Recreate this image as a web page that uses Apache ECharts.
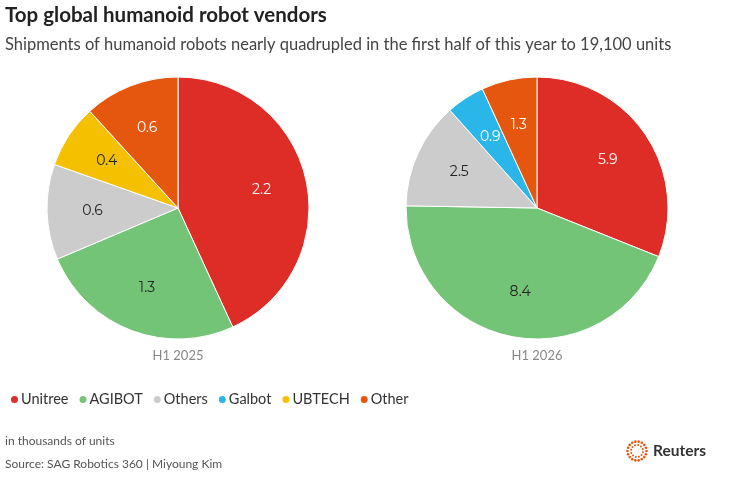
<!DOCTYPE html>
<html><head><meta charset="utf-8">
<script src="https://cdn.jsdelivr.net/npm/echarts@6/dist/echarts.min.js"></script>
<style>html,body{margin:0;padding:0;background:#fff}#c{width:750px;height:484px}</style>
</head><body><div id="c"></div>
<script>
const vendors = ['Unitree','AGIBOT','Others','Galbot','UBTECH','Other'];
const vendorColors = {Unitree:'#de2d26',AGIBOT:'#73c476',Others:'#cccccc',Galbot:'#2bb6ea',UBTECH:'#f4c000',Other:'#e5560f'};
const labelDark = {Unitree:false,AGIBOT:true,Others:true,Galbot:false,UBTECH:true,Other:false};
const names2025 = ['Unitree','AGIBOT','Others','UBTECH','Other'];
const values2025 = [2.2,1.3,0.6,0.4,0.6];
const names2026 = ['Unitree','AGIBOT','Others','Galbot','Other'];
const values2026 = [5.9,8.4,2.5,0.9,1.3];
const periods = ['H1 2025','H1 2026'];

const FONT = 'Lato';
function mk(names, vals){
  return names.map((n,i)=>({name:n,value:vals[i],itemStyle:{color:vendorColors[n]},
    label:{color: labelDark[n] ? '#222' : '#fff'}}));
}
function pies(names, vals, cx){
  return [
    {type:'pie',center:[cx,208],radius:[0,131],startAngle:90,clockwise:true,silent:true,
     data:mk(names,vals),label:{show:false},labelLine:{show:false},
     itemStyle:{borderColor:'#fff',borderWidth:1},animation:false},
    {type:'pie',center:[cx,208],radius:[34,131],startAngle:90,clockwise:true,silent:true,
     data:mk(names,vals).map(d=>Object.assign(d,{itemStyle:{color:'rgba(0,0,0,0)'}})),
     label:{show:true,position:'inside',formatter:p=>p.value.toFixed(1),fontFamily:'Montserrat, "Noto Sans", sans-serif',fontSize:14},
     labelLine:{show:false},emphasis:{disabled:true},animation:false,legendHoverLink:false}
  ];
}
const chart = echarts.init(document.getElementById('c'),null,{renderer:'canvas'});
const logoDots = [];
for(let k=0;k<18;k++){const a=k/18*Math.PI*2;logoDots.push({type:'circle',shape:{cx:637+9.5*Math.cos(a),cy:451+9.5*Math.sin(a),r:1.3},style:{fill:'#e5560f'}});}
for(let k=0;k<12;k++){const a=k/12*Math.PI*2+0.2;logoDots.push({type:'circle',shape:{cx:637+6*Math.cos(a),cy:451+6*Math.sin(a),r:1.0},style:{fill:'#e5560f'}});}
chart.setOption({
  textStyle:{fontFamily:FONT},
  legend:{data:vendors,left:4,top:387,icon:'circle',itemWidth:9,itemHeight:9,itemGap:9,
    textStyle:{fontSize:14.5,color:'#333',fontFamily:FONT,padding:[0,0,0,-3]},selectedMode:false},
  series:[...pies(names2025,values2025,178),...pies(names2026,values2026,537)],
  graphic:[
    {type:'text',left:5,top:5,style:{text:'Top global humanoid robot vendors',font:'bold 20.5px '+FONT,fill:'#222'}},
    {type:'text',left:5,top:36,style:{text:'Shipments of humanoid robots nearly quadrupled in the first half of this year to 19,100 units',font:'16.5px '+FONT,fill:'#444'}},
    {type:'text',x:178,y:356,style:{text:periods[0],font:'13px '+FONT,fill:'#888',align:'center',verticalAlign:'middle'}},
    {type:'text',x:537,y:356,style:{text:periods[1],font:'13px '+FONT,fill:'#888',align:'center',verticalAlign:'middle'}},
    {type:'text',left:5,top:435,style:{text:'in thousands of units',font:'12px '+FONT,fill:'#555'}},
    {type:'text',left:5,top:458,style:{text:'Source: SAG Robotics 360 | Miyoung Kim',font:'12px '+FONT,fill:'#555'}},
    ...logoDots,
    {type:'text',x:653,y:451,style:{text:'Reuters',font:'bold 15.5px '+FONT,fill:'#333',verticalAlign:'middle'}}
  ]
});
</script></body></html>
